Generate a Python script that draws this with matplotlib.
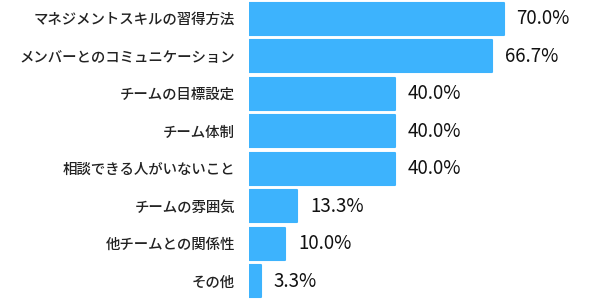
import matplotlib.pyplot as plt

plt.rcParams['font.family'] = ['Noto Sans CJK JP', 'DejaVu Sans']

# Data
categories = ['マネジメントスキルの習得方法', 'メンバーとのコミュニケーション', 'チームの目標設定',
              'チーム体制', '相談できる人がいないこと', 'チームの雰囲気', '他チームとの関係性', 'その他']
values = [70.0, 66.7, 40.0, 40.0, 40.0, 13.3, 10.0, 3.3]
value_labels = ['70.0%', '66.7%', '40.0%', '40.0%', '40.0%', '13.3%', '10.0%', '3.3%']

fig = plt.figure(figsize=(6.0, 3.02), dpi=100)
ax = fig.add_axes([249 / 600, 2 / 302, 351 / 600, 300 / 302])

pos = range(len(categories))
bars = ax.barh(pos, values, height=0.86, color='#3db3fd', edgecolor='#3db3fd',
               linewidth=1.5)
for b in bars:
    b.set_joinstyle('round')

for p, v, lab in zip(pos, values, value_labels):
    ax.text(v + 3.5, p, lab, va='center', ha='left', fontsize=13.5, color='#111111')

ax.set_xlim(0, 351 / 3.64)
ax.set_ylim(len(categories) - 0.5, -0.5)
ax.set_yticks(list(pos))
ax.set_yticklabels(categories, fontsize=10.4, fontweight='medium', color='#222222')
ax.tick_params(axis='y', length=0, pad=10)
ax.set_xticks([])
for s in ax.spines.values():
    s.set_visible(False)

fig.savefig('out.png', dpi=100)
